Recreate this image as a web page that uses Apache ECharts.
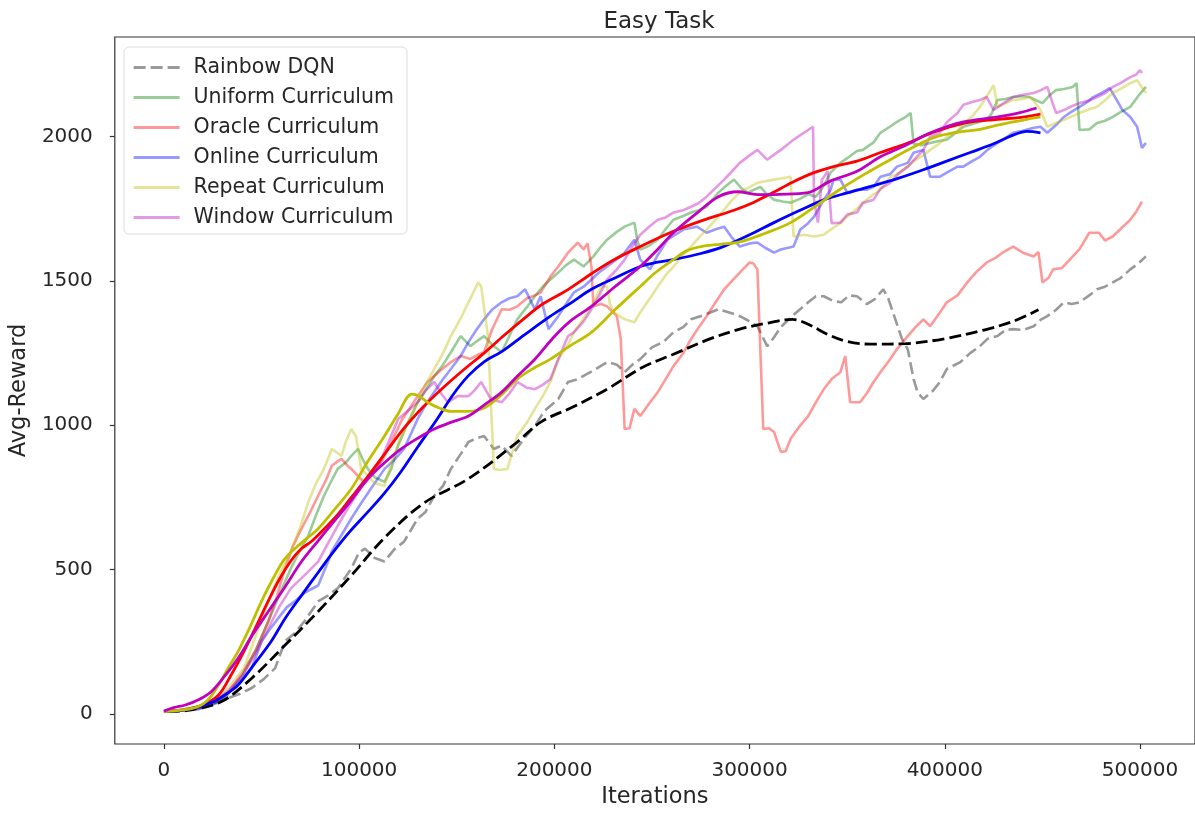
<!DOCTYPE html>
<html>
<head>
<meta charset="utf-8">
<title>Easy Task</title>
<script src="https://cdn.jsdelivr.net/npm/echarts@6/dist/echarts.min.js"></script>
<style>
  html, body { margin: 0; padding: 0; background: #ffffff; }
  #chart { width: 1195px; height: 814px; }
</style>
</head>
<body>
<div id="chart"></div>
<script>
// Tick positions on both axes
const xTicks = [0, 100000, 200000, 300000, 400000, 500000];
const yTicks = [0, 500, 1000, 1500, 2000];

const legendNames = ['Rainbow DQN', 'Uniform Curriculum', 'Oracle Curriculum',
  'Online Curriculum', 'Repeat Curriculum', 'Window Curriculum'];

// Raw (moving-window) reward curves: [iteration, avg reward]
const rainbowRaw = [[17000,18],[22000,28],[28000,40],[33000,55],[39000,70],[45000,90],[51000,120],[57000,159],[62000,252],[67000,280],[72000,321],[79000,390],[84000,410],[89000,435],[96000,504],[100000,560],[103000,573],[108000,540],[113000,528],[118000,570],[123000,597],[130000,677],[134000,700],[138500,756],[143000,790],[147000,849],[152000,900],[156000,942],[160000,955],[164000,963],[169000,918],[173000,930],[178000,894],[184000,950],[190000,998],[195000,1050],[202000,1091],[207000,1150],[212000,1160],[220000,1190],[227000,1219],[232000,1210],[236000,1184],[240000,1210],[244000,1229],[250000,1270],[256000,1290],[261000,1322],[266000,1340],[270000,1367],[276000,1380],[284000,1402],[290000,1390],[295000,1378],[300000,1360],[304000,1343],[309000,1274],[312000,1300],[316000,1340],[322000,1380],[330000,1426],[334000,1447],[338000,1447],[343000,1430],[347000,1426],[351000,1450],[355000,1447],[360000,1420],[364000,1436],[368500,1471],[371000,1440],[374000,1380],[378000,1300],[381000,1264],[384000,1160],[386000,1115],[389000,1091],[394000,1120],[397500,1150],[401000,1195],[408000,1219],[413000,1250],[418000,1274],[422000,1300],[427000,1309],[431000,1330],[435000,1333],[440000,1330],[445500,1343],[449000,1365],[452500,1378],[457000,1400],[461000,1426],[465000,1420],[469000,1426],[474000,1450],[478000,1471],[482000,1480],[486000,1495],[490000,1510],[495000,1540],[499000,1560],[503000,1585]];

const uniformRaw = [[17000,20],[25000,35],[32000,60],[40000,130],[47000,220],[53500,321],[59000,410],[65000,504],[70000,570],[74000,618],[78000,690],[82000,756],[86000,810],[89000,849],[93000,870],[96000,894],[99500,918],[102000,880],[104500,849],[108000,820],[113000,804],[116500,849],[120000,930],[125000,1010],[130000,1080],[134000,1120],[138500,1170],[143000,1210],[147000,1253],[152000,1309],[157000,1274],[160000,1290],[164000,1309],[168000,1280],[173000,1253],[177000,1310],[181000,1367],[186000,1410],[190000,1447],[194000,1480],[198000,1505],[202000,1529],[206000,1555],[210000,1574],[215000,1550],[220000,1585],[224000,1620],[227000,1643],[232000,1670],[236000,1688],[241000,1702],[242500,1640],[244000,1609],[248000,1620],[253000,1643],[257000,1680],[261000,1712],[266000,1725],[270000,1737],[274000,1745],[278000,1757],[284000,1806],[288000,1830],[292000,1851],[296000,1820],[299000,1806],[302000,1815],[305500,1826],[309000,1800],[312500,1781],[317000,1775],[321000,1771],[326000,1785],[330000,1800],[334000,1792],[338000,1830],[341500,1875],[346500,1909],[351000,1930],[355000,1950],[358000,1954],[363500,1980],[367000,2013],[372000,2035],[375500,2051],[380000,2068],[382500,2082],[384000,1975],[388000,1970],[392500,1978],[397000,1985],[401000,1989],[405000,2010],[409500,2034],[415000,2045],[421500,2058],[424000,2080],[427000,2127],[431000,2130],[435000,2137],[440000,2140],[443500,2137],[447000,2125],[450000,2116],[454000,2145],[457000,2161],[461000,2165],[465500,2172],[467500,2185],[469000,2023],[474000,2025],[478000,2047],[482000,2055],[486000,2068],[490000,2085],[495000,2103],[499000,2140],[503000,2172]];

const oracleRaw = [[17000,20],[25000,38],[32000,65],[40000,140],[47000,220],[53500,321],[58000,410],[62000,504],[66000,580],[70500,642],[75000,700],[79000,756],[83000,810],[86000,860],[89000,875],[91000,884],[94000,860],[96000,849],[100000,820],[103000,800],[107000,830],[112000,880],[117000,950],[122000,1020],[126000,1060],[130000,1101],[135000,1150],[140000,1180],[147000,1219],[152000,1240],[157000,1230],[161000,1245],[164000,1253],[168000,1330],[173000,1402],[177000,1400],[181000,1412],[186000,1440],[190000,1450],[193000,1460],[198000,1516],[202000,1550],[207000,1598],[212000,1633],[215000,1609],[217000,1630],[219000,1550],[220000,1412],[224000,1420],[227000,1412],[232000,1378],[234000,1300],[236000,987],[238500,990],[241000,1057],[244000,1032],[248000,1070],[253000,1115],[257000,1160],[261000,1205],[266000,1250],[270000,1298],[274000,1340],[278000,1378],[282000,1420],[287000,1471],[291000,1500],[295000,1529],[300000,1564],[302000,1560],[304000,1540],[307000,987],[310000,990],[312500,977],[316000,908],[318500,910],[321000,953],[326000,1000],[330000,1032],[334000,1080],[338000,1125],[342000,1160],[346500,1184],[349000,1240],[351500,1080],[356500,1080],[360000,1110],[363500,1150],[367000,1184],[372000,1229],[375500,1264],[381000,1309],[385000,1340],[389000,1367],[392500,1343],[397500,1391],[401000,1426],[406500,1450],[411500,1495],[416000,1530],[421500,1564],[426000,1580],[430000,1600],[435000,1619],[440000,1598],[445500,1585],[448000,1600],[450000,1495],[453000,1510],[455500,1540],[460000,1545],[464000,1574],[469000,1610],[474000,1667],[479000,1667],[482000,1640],[486000,1654],[490000,1680],[495000,1712],[498000,1740],[501000,1775]];

const onlineRaw = [[17000,15],[22000,25],[28000,45],[34000,80],[40000,120],[45000,159],[50000,252],[55000,300],[58500,331],[63000,370],[67000,390],[72000,420],[79000,445],[83000,510],[86000,563],[91000,620],[96000,677],[101000,730],[106000,780],[113000,849],[118000,880],[123000,918],[130000,1022],[134000,1070],[138500,1115],[143000,1160],[147000,1195],[152000,1240],[156000,1288],[160000,1330],[164000,1367],[168000,1400],[173000,1426],[177000,1440],[181000,1447],[185000,1471],[190000,1402],[193000,1447],[197000,1333],[202000,1378],[206000,1420],[210000,1460],[215000,1480],[219000,1505],[223000,1530],[227000,1550],[232000,1575],[236000,1598],[241000,1643],[244000,1574],[249000,1540],[253000,1590],[258000,1643],[262000,1660],[266000,1678],[273000,1688],[278000,1667],[283000,1680],[287000,1688],[291000,1650],[295000,1619],[300000,1630],[304000,1633],[308000,1615],[312500,1598],[316000,1609],[322500,1619],[326000,1678],[330000,1700],[333000,1723],[338000,1781],[341500,1816],[343000,1851],[346500,1851],[350000,1806],[355000,1816],[360000,1816],[363500,1826],[367000,1861],[372000,1870],[375500,1896],[381000,1909],[384000,1944],[389000,1954],[392500,1861],[397500,1861],[401000,1875],[406500,1896],[409500,1896],[414000,1915],[418000,1930],[422000,1955],[427000,1978],[431000,1995],[435000,2013],[440000,2020],[445000,2030],[449000,2034],[452500,2013],[457000,2040],[461000,2068],[464000,2082],[469000,2103],[473000,2120],[476000,2137],[480000,2150],[484500,2168],[488000,2127],[491000,2092],[495000,2068],[498500,2034],[501000,1961],[503000,1978]];

const repeatRaw = [[17000,22],[25000,40],[33000,90],[41000,159],[47000,270],[53500,390],[59000,480],[65000,563],[70000,650],[74000,735],[78000,800],[82000,849],[86000,918],[91000,894],[93000,940],[96000,987],[98500,960],[101000,849],[104500,825],[108000,800],[113000,790],[117000,880],[121500,963],[126000,1020],[130000,1080],[134000,1140],[138500,1195],[143000,1250],[147000,1309],[152000,1370],[156000,1426],[161000,1495],[162500,1481],[166000,1309],[167500,1080],[169000,849],[172000,845],[176000,849],[181000,963],[186000,1010],[190000,1057],[194000,1100],[198000,1150],[202000,1229],[207000,1280],[210000,1322],[215000,1370],[219000,1412],[224000,1481],[227000,1481],[228500,1420],[230500,1391],[236000,1367],[241000,1357],[244000,1391],[249000,1440],[253000,1481],[257000,1520],[261000,1550],[266000,1590],[270000,1619],[274000,1650],[278000,1678],[283000,1715],[287000,1747],[291000,1780],[295000,1806],[300000,1825],[304000,1840],[308000,1845],[312500,1851],[316000,1855],[321000,1861],[322500,1654],[328000,1660],[333000,1654],[338000,1660],[341500,1678],[346500,1700],[350000,1723],[355000,1750],[358000,1771],[363500,1800],[367000,1815],[372000,1860],[375500,1870],[381000,1896],[384000,1915],[389000,1935],[392500,1954],[397000,1975],[401000,1999],[406500,2020],[409500,2047],[414000,2070],[418000,2103],[421500,2140],[425000,2178],[427000,2103],[431000,2115],[435000,2127],[440000,2130],[443500,2137],[446000,2120],[449000,2092],[452500,2034],[456000,2045],[461000,2058],[465000,2070],[469000,2082],[474000,2095],[478000,2103],[482000,2125],[486000,2151],[490000,2165],[495000,2185],[498500,2195],[501000,2170],[503000,2151]];

const windowRaw = [[17000,22],[25000,40],[33000,80],[41000,140],[47000,210],[53500,297],[59000,370],[65000,435],[72000,480],[79000,528],[84000,590],[89000,652],[94000,710],[99500,770],[105000,820],[110000,860],[115000,940],[120000,1022],[125000,1050],[130000,1080],[134000,1120],[138500,1150],[142000,1110],[145500,1080],[150500,1101],[156000,1101],[159000,1120],[162500,1150],[165000,1120],[167500,1091],[173000,1080],[177000,1110],[181000,1150],[186000,1130],[190000,1125],[194000,1140],[198000,1160],[202000,1229],[207000,1309],[210000,1322],[215000,1360],[219000,1402],[223000,1450],[227000,1505],[232000,1540],[236000,1574],[240000,1620],[244000,1660],[249000,1690],[253000,1712],[257000,1720],[261000,1737],[266000,1745],[270000,1757],[274000,1770],[278000,1792],[283000,1825],[287000,1851],[291000,1880],[295000,1909],[300000,1935],[304000,1954],[309000,1920],[312000,1935],[316000,1954],[319000,1970],[322500,1989],[326000,2005],[330000,2023],[332500,2034],[333000,1781],[335000,1702],[337000,1850],[340000,1880],[342000,1700],[346500,1702],[350000,1730],[355000,1737],[358000,1770],[363500,1781],[367000,1820],[372000,1840],[376000,1870],[381000,1896],[385000,1925],[389000,1954],[392500,2000],[397500,2013],[401000,2050],[406500,2082],[409500,2110],[414000,2120],[418000,2127],[421500,2137],[425000,2092],[430000,2115],[435000,2137],[440000,2145],[445500,2151],[449000,2160],[452500,2172],[455000,2120],[457000,2082],[462000,2095],[465000,2105],[469000,2116],[474000,2125],[478000,2137],[482000,2150],[486000,2172],[490000,2185],[495000,2206],[498000,2215],[500000,2230],[501000,2220]];

// Smoothed trend curves: [iteration, avg reward]
const rainbowSmooth = [[2000,8],[15000,15],[30000,45],[45000,124],[62000,238],[79000,355],[96000,480],[113000,610],[133000,730],[156000,815],[181000,942],[193000,1011],[210000,1065],[227000,1125],[245000,1200],[261000,1246],[280000,1300],[295000,1333],[310000,1355],[322000,1367],[330000,1350],[340000,1315],[350000,1290],[362000,1281],[380000,1283],[400000,1300],[420000,1330],[435000,1360],[448000,1400]];

const oracleSmooth = [[0,8],[10000,15],[20000,32],[28000,66],[34000,130],[41000,217],[47000,300],[53000,385],[59000,465],[65000,530],[70000,570],[76000,600],[82000,640],[89000,690],[96000,750],[103000,810],[113000,900],[123000,990],[133000,1065],[143000,1130],[154000,1195],[164000,1250],[174000,1310],[184000,1367],[194000,1420],[207000,1470],[219000,1525],[231000,1575],[244000,1619],[261000,1672],[276000,1710],[292000,1745],[302000,1772],[312000,1806],[322000,1842],[333000,1875],[344000,1898],[355000,1915],[367000,1945],[381000,1978],[393000,2012],[409000,2045],[427000,2060],[438000,2066],[449000,2078]];

const onlineSmooth = [[0,8],[12000,15],[24500,40],[31000,65],[38000,100],[46000,170],[55000,252],[62000,330],[70500,411],[79000,490],[87000,563],[95000,630],[104500,700],[113000,765],[121500,840],[130000,925],[140000,1022],[148000,1105],[156000,1172],[164000,1220],[173000,1255],[185000,1315],[198000,1378],[209000,1426],[219000,1471],[231000,1510],[244000,1550],[253000,1565],[261000,1574],[275000,1595],[286500,1619],[300000,1660],[312500,1702],[325000,1742],[338000,1781],[350000,1805],[363500,1830],[376000,1855],[389000,1885],[401000,1915],[413000,1945],[425000,1975],[435000,2005],[442000,2018],[449000,2013]];

const repeatSmooth = [[0,8],[15000,20],[22000,45],[28000,100],[33000,160],[38000,217],[44000,300],[50000,390],[56000,470],[62000,538],[70000,590],[79000,642],[87000,705],[96000,780],[104000,870],[113000,963],[120000,1040],[127000,1108],[131000,1100],[135000,1080],[141000,1060],[147000,1048],[155000,1048],[164000,1060],[172000,1100],[181000,1160],[190000,1200],[198000,1229],[208000,1275],[219000,1322],[231000,1400],[244000,1481],[252000,1530],[261000,1574],[268000,1605],[275000,1619],[285000,1627],[295000,1635],[308000,1665],[321000,1702],[334000,1760],[346000,1816],[359000,1870],[372000,1920],[384000,1964],[395000,1998],[406000,2015],[418000,2025],[427000,2040],[435000,2051],[442000,2060],[449000,2068]];

const windowSmooth = [[0,10],[5000,22],[11000,31],[18000,50],[24500,79],[31000,130],[38000,193],[45000,270],[53500,355],[62000,440],[70500,528],[79000,600],[87000,666],[96000,740],[104500,815],[113000,870],[121500,918],[130000,955],[138500,987],[147000,1010],[156000,1032],[164000,1070],[173000,1115],[181000,1170],[190000,1229],[199000,1300],[208000,1360],[219000,1412],[231000,1480],[244000,1550],[253000,1610],[261000,1667],[273000,1735],[284000,1792],[294000,1809],[304000,1799],[315000,1800],[330000,1806],[341000,1845],[355000,1880],[367000,1930],[380000,1970],[393000,2014],[409000,2050],[427000,2068],[438000,2082],[447000,2099]];

const FONT = 'DejaVu Sans';
const TEXT = '#262626';
const DASH = [12, 5];

function rawLine(name, data, color, dashed) {
  return {
    name, type: 'line', data, color,
    symbol: 'none', showSymbol: false, smooth: false,
    lineStyle: { width: 2.6, color, type: dashed ? DASH : 'solid', cap: 'butt' },
    z: 2, silent: true
  };
}
function trendLine(name, data, color, dashed, z) {
  return {
    name, type: 'line', data, color,
    symbol: 'none', showSymbol: false, smooth: 0.35,
    lineStyle: { width: 2.8, color, type: dashed ? DASH : 'solid', cap: 'butt' },
    z, silent: true
  };
}

const series = [
  rawLine(legendNames[0], rainbowRaw, 'rgba(0,0,0,0.4)', true),
  rawLine(legendNames[1], uniformRaw, 'rgba(0,128,0,0.4)', false),
  rawLine(legendNames[2], oracleRaw, 'rgba(255,0,0,0.4)', false),
  rawLine(legendNames[3], onlineRaw, 'rgba(0,0,255,0.4)', false),
  rawLine(legendNames[4], repeatRaw, 'rgba(191,191,0,0.4)', false),
  rawLine(legendNames[5], windowRaw, 'rgba(191,0,191,0.4)', false),
  trendLine('Rainbow DQN trend', rainbowSmooth, '#000000', true, 3),
  trendLine('Oracle Curriculum trend', oracleSmooth, '#ff0000', false, 4),
  trendLine('Online Curriculum trend', onlineSmooth, '#0000ff', false, 5),
  trendLine('Repeat Curriculum trend', repeatSmooth, '#bfbf00', false, 6),
  trendLine('Window Curriculum trend', windowSmooth, '#bf00bf', false, 7)
];

const chart = echarts.init(document.getElementById('chart'), null, { renderer: 'canvas' });
chart.setOption({
  animation: false,
  backgroundColor: '#ffffff',
  textStyle: { fontFamily: FONT },
  title: {
    text: 'Easy Task',
    left: 654, top: 6, textAlign: 'center',
    textStyle: { fontFamily: FONT, fontSize: 23, fontWeight: 'normal', color: TEXT }
  },
  grid: {
    left: 114, top: 37, right: -1, bottom: 68,
    show: true, borderColor: '#333333', borderWidth: 1.2, backgroundColor: 'transparent'
  },
  legend: {
    data: legendNames,
    orient: 'vertical',
    left: 124, top: 47,
    padding: [10, 13, 6, 8],
    itemWidth: 46, itemHeight: 14, itemGap: 9,
    backgroundColor: 'rgba(255,255,255,0.8)',
    borderColor: '#dddddd', borderWidth: 1, borderRadius: 5,
    itemStyle: { opacity: 0 },
    lineStyle: { width: 3.2 },
    textStyle: { fontFamily: FONT, fontSize: 20.5, color: TEXT, padding: [0, 0, 0, 9] },
    selectedMode: false
  },
  xAxis: {
    type: 'value',
    min: -25150, max: 528150,
    name: 'Iterations', nameLocation: 'middle', nameGap: 42,
    nameTextStyle: { fontFamily: FONT, fontSize: 22.5, color: TEXT },
    axisLine: { show: false, onZero: false },
    axisTick: { show: true, length: 5, customValues: xTicks, lineStyle: { color: '#333333', width: 1.2 } },
    axisLabel: { customValues: xTicks, margin: 17, fontFamily: FONT, fontSize: 20, color: TEXT,
      formatter: v => String(v) },
    splitLine: { show: false }
  },
  yAxis: {
    type: 'value',
    min: -104, max: 2345,
    name: 'Avg-Reward', nameLocation: 'middle', nameGap: 76, nameRotate: 90,
    nameTextStyle: { fontFamily: FONT, fontSize: 22.5, color: TEXT },
    axisLine: { show: false, onZero: false },
    axisTick: { show: true, length: 5, customValues: yTicks, lineStyle: { color: '#333333', width: 1.2 } },
    axisLabel: { customValues: yTicks, margin: 22, fontFamily: FONT, fontSize: 20, color: TEXT,
      formatter: v => String(v) },
    splitLine: { show: false }
  },
  series
});
</script>
</body>
</html>
